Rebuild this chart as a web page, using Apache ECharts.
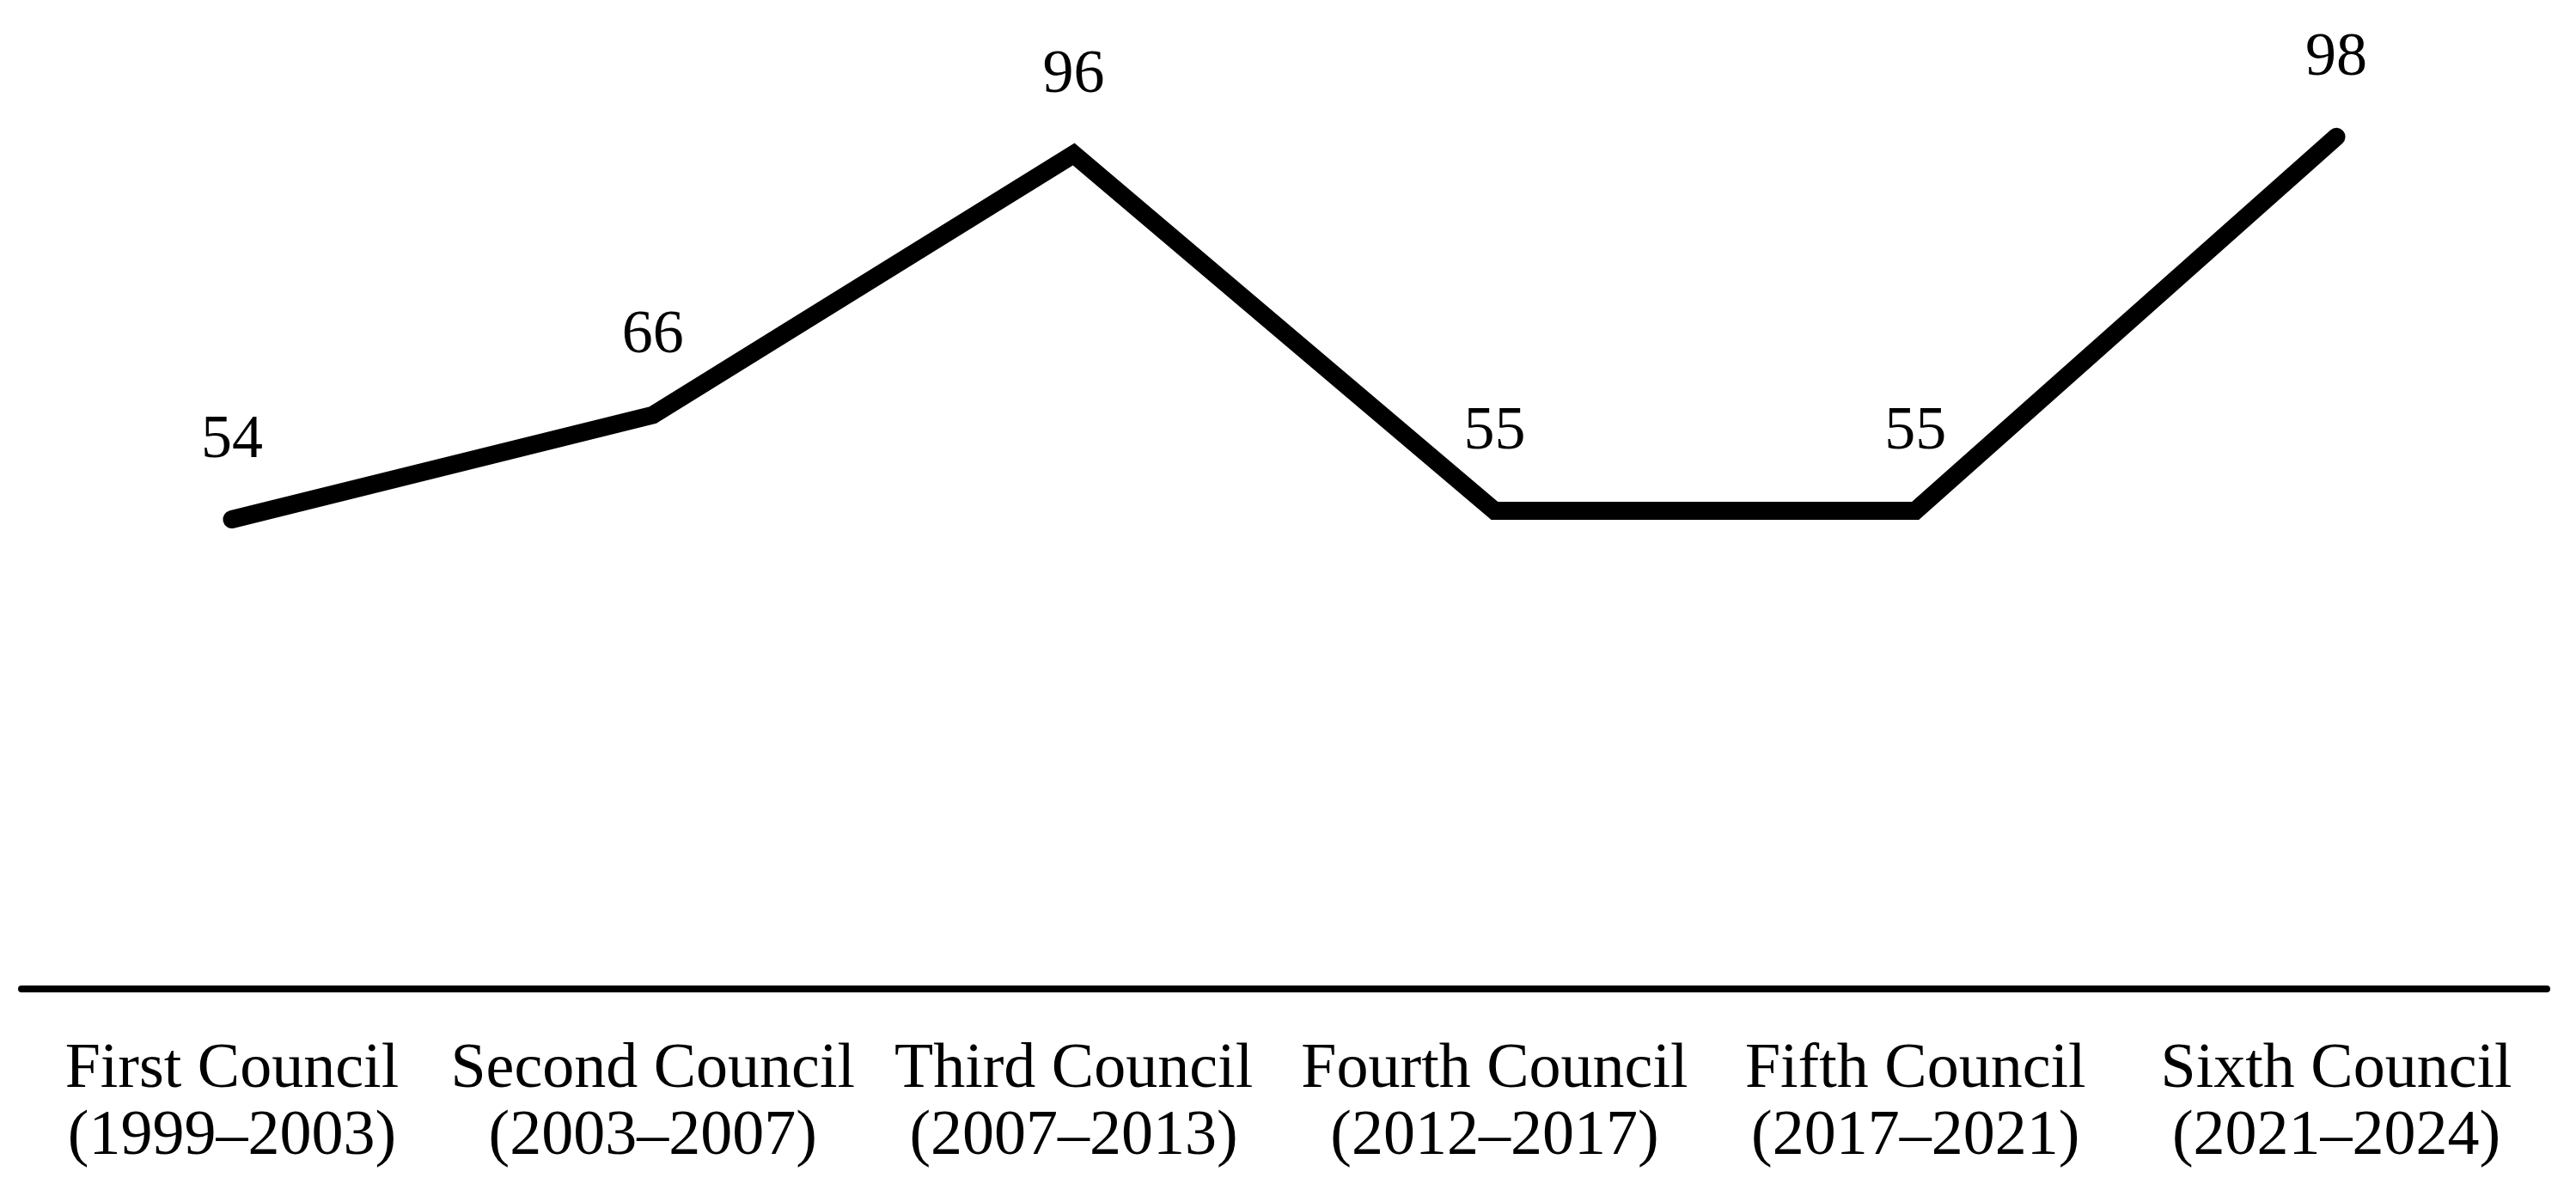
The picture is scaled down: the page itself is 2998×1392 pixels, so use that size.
<!DOCTYPE html>
<html>
<head>
<meta charset="utf-8">
<script src="https://cdn.jsdelivr.net/npm/echarts@6/dist/echarts.min.js"></script>
<style>
    html, body { margin: 0; padding: 0; background: #fff; }
    #chart { width: 2998px; height: 1392px; }
</style>
</head>
<body>
<div id="chart"></div>
<script>
    const councils = ['First Council', 'Second Council', 'Third Council', 'Fourth Council', 'Fifth Council', 'Sixth Council']
    const periods = ['(1999–2003)', '(2003–2007)', '(2007–2013)', '(2012–2017)', '(2017–2021)', '(2021–2024)']
    const counts = [54, 66, 96, 55, 55, 98]

    const categories = councils.map((c, i) => c + '\n' + periods[i])

    const chart = echarts.init(document.getElementById('chart'))

    chart.setOption({
        animation: false,
        textStyle: { fontFamily: '"Liberation Serif", "Times New Roman", serif' },
        grid: {
            left: 25,
            right: 34,
            top: 139,
            bottom: 241
        },
        xAxis: {
            type: 'category',
            data: categories,
            boundaryGap: true,
            axisLine: {
                lineStyle: { color: '#000', width: 8 }
            },
            axisTick: { show: false },
            axisLabel: {
                color: '#000',
                fontSize: 74,
                lineHeight: 78,
                margin: 56,
                interval: 0,
                fontFamily: '"Liberation Serif", "Times New Roman", serif'
            }
        },
        yAxis: {
            type: 'value',
            min: 0,
            max: 100,
            show: false,
            splitLine: { show: false }
        },
        series: [
            {
                type: 'line',
                data: counts,
                // symbols kept tiny so the value labels still render
                symbol: 'circle',
                symbolSize: 1,
                itemStyle: { color: '#000' },
                lineStyle: {
                    color: '#000',
                    width: 21,
                    cap: 'round',
                    join: 'miter'
                },
                label: {
                    show: true,
                    position: 'top',
                    distance: 55,
                    color: '#000',
                    fontSize: 72,
                    fontFamily: '"Liberation Serif", "Times New Roman", serif'
                }
            }
        ]
    })
</script>
</body>
</html>
